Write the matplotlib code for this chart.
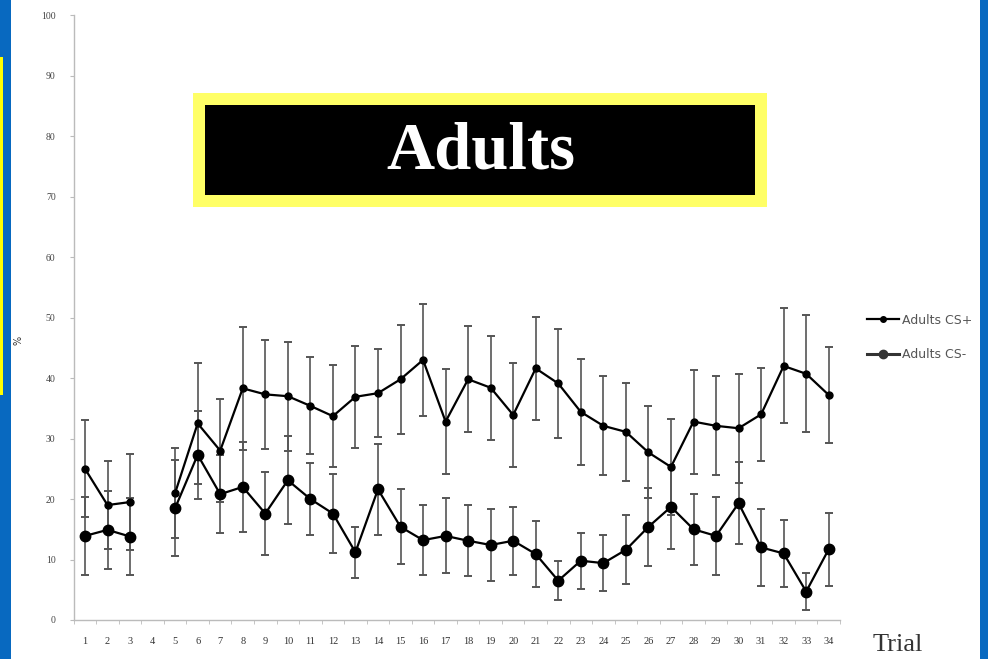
import numpy as np
import matplotlib
matplotlib.use("Agg")
import matplotlib.pyplot as plt
from matplotlib.patches import Rectangle
from matplotlib.lines import Line2D

# trials 1..34, trial 4 has no data
trials = np.arange(1, 35)

cs_plus = [25.0, 19.0, 19.5, np.nan, 21.0, 32.5, 28.0, 38.3, 37.3, 37.0,
           35.4, 33.7, 36.9, 37.5, 39.8, 43.0, 32.8, 39.8, 38.4, 33.9,
           41.6, 39.1, 34.4, 32.1, 31.1, 27.7, 25.3, 32.8, 32.1, 31.7,
           34.0, 42.0, 40.7, 37.2]
cs_plus_err = [8.0, 7.3, 8.0, np.nan, 7.5, 10.0, 8.5, 10.2, 9.0, 9.0,
               8.0, 8.4, 8.4, 7.3, 9.0, 9.2, 8.7, 8.8, 8.6, 8.6,
               8.5, 9.0, 8.7, 8.2, 8.1, 7.6, 8.0, 8.6, 8.2, 9.0,
               7.7, 9.5, 9.7, 7.9]

cs_minus = [13.9, 14.9, 13.8, np.nan, 18.5, 27.3, 20.8, 22.0, 17.6, 23.1,
            20.0, 17.6, 11.2, 21.6, 15.4, 13.2, 13.9, 13.1, 12.4, 13.1,
            10.9, 6.5, 9.8, 9.4, 11.6, 15.4, 18.7, 15.0, 13.9, 19.3,
            12.0, 11.0, 4.7, 11.7]
cs_minus_err = [6.5, 6.5, 6.4, np.nan, 8.0, 7.3, 6.5, 7.4, 6.8, 7.3,
                6.0, 6.5, 4.2, 7.5, 6.2, 5.8, 6.2, 5.9, 6.0, 5.6,
                5.5, 3.2, 4.6, 4.6, 5.7, 6.5, 7.0, 5.9, 6.5, 6.8,
                6.3, 5.5, 3.0, 6.0]

y_ticks = np.arange(0, 101, 10)

fig = plt.figure(figsize=(9.88, 6.59), dpi=100)
fig.patch.set_facecolor("white")
ax = fig.add_axes([0.0746, 0.0592, 0.7756, 0.9178])

ax.errorbar(trials, cs_plus, yerr=cs_plus_err, color="black", lw=1.6,
            marker="o", ms=5, ecolor="#555555", elinewidth=1.2, capsize=3,
            capthick=1.4)
ax.errorbar(trials, cs_minus, yerr=cs_minus_err, color="black", lw=1.6,
            marker="o", ms=7.5, ecolor="#555555", elinewidth=1.2, capsize=3,
            capthick=1.4)

ax.set_xlim(0.5, 34.5)
ax.set_ylim(0, 100)
ax.set_yticks(y_ticks)
ax.set_yticklabels([str(v) for v in y_ticks], fontsize=7, color="#444444",
                   family="Liberation Serif")
ax.set_xticks(trials)
ax.set_xticklabels([str(t) for t in trials], fontsize=7.5, color="#333333",
                   family="Liberation Serif")
ax.set_xticks(np.arange(0.5, 35, 1), minor=True)
ax.tick_params(axis="x", which="major", length=0, pad=12)
ax.tick_params(axis="x", which="minor", length=3, color="#bbbbbb")
ax.tick_params(axis="y", length=3, color="#bbbbbb", pad=10)
for side in ["top", "right"]:
    ax.spines[side].set_visible(False)
for side in ["left", "bottom"]:
    ax.spines[side].set_color("#bbbbbb")
    ax.spines[side].set_linewidth(1.0)

handles = [Line2D([], [], color="black", lw=1.6, marker="o", ms=4),
           Line2D([], [], color="#333333", lw=2.2, marker="o", ms=6)]
ax.legend(handles, ["Adults CS+", "Adults CS-"], loc="center left",
          bbox_to_anchor=(0.866, 0.488), bbox_transform=fig.transFigure,
          frameon=False, fontsize=9, handlelength=2.6, labelspacing=1.7,
          handletextpad=0.2, labelcolor="#555555")

fig.text(18 / 988, 1 - 340 / 659, "%", rotation=90, fontsize=7,
         color="#333333", ha="center", va="center")
fig.text(898 / 988, 1 - 645 / 659, "Trial", fontsize=19, color="#333333",
         family="Liberation Serif", ha="center", va="center")

# title box
fig.patches.append(Rectangle((193 / 988, 1 - 207 / 659), 574 / 988, 114 / 659,
                             transform=fig.transFigure, facecolor="#ffff66",
                             edgecolor="none", zorder=5))
fig.patches.append(Rectangle((205 / 988, 1 - 195 / 659), 550 / 988, 90 / 659,
                             transform=fig.transFigure, facecolor="black",
                             edgecolor="none", zorder=6))
fig.text(481 / 988, 1 - 152 / 659, "Adults", fontsize=48, color="white",
         family="Liberation Serif", weight="bold", ha="center", va="center",
         zorder=7)

# blue side borders
fig.patches.append(Rectangle((0, 0), 11 / 988, 1, transform=fig.transFigure,
                             facecolor="#0869c0", edgecolor="none", zorder=8))
fig.patches.append(Rectangle((980 / 988, 0), 8 / 988, 1, transform=fig.transFigure,
                             facecolor="#0869c0", edgecolor="none", zorder=8))
fig.patches.append(Rectangle((0, 1 - 395 / 659), 2.5 / 988, 338 / 659,
                             transform=fig.transFigure, facecolor="#ffff00",
                             edgecolor="none", zorder=9))

fig.savefig("out.png", dpi=100)
